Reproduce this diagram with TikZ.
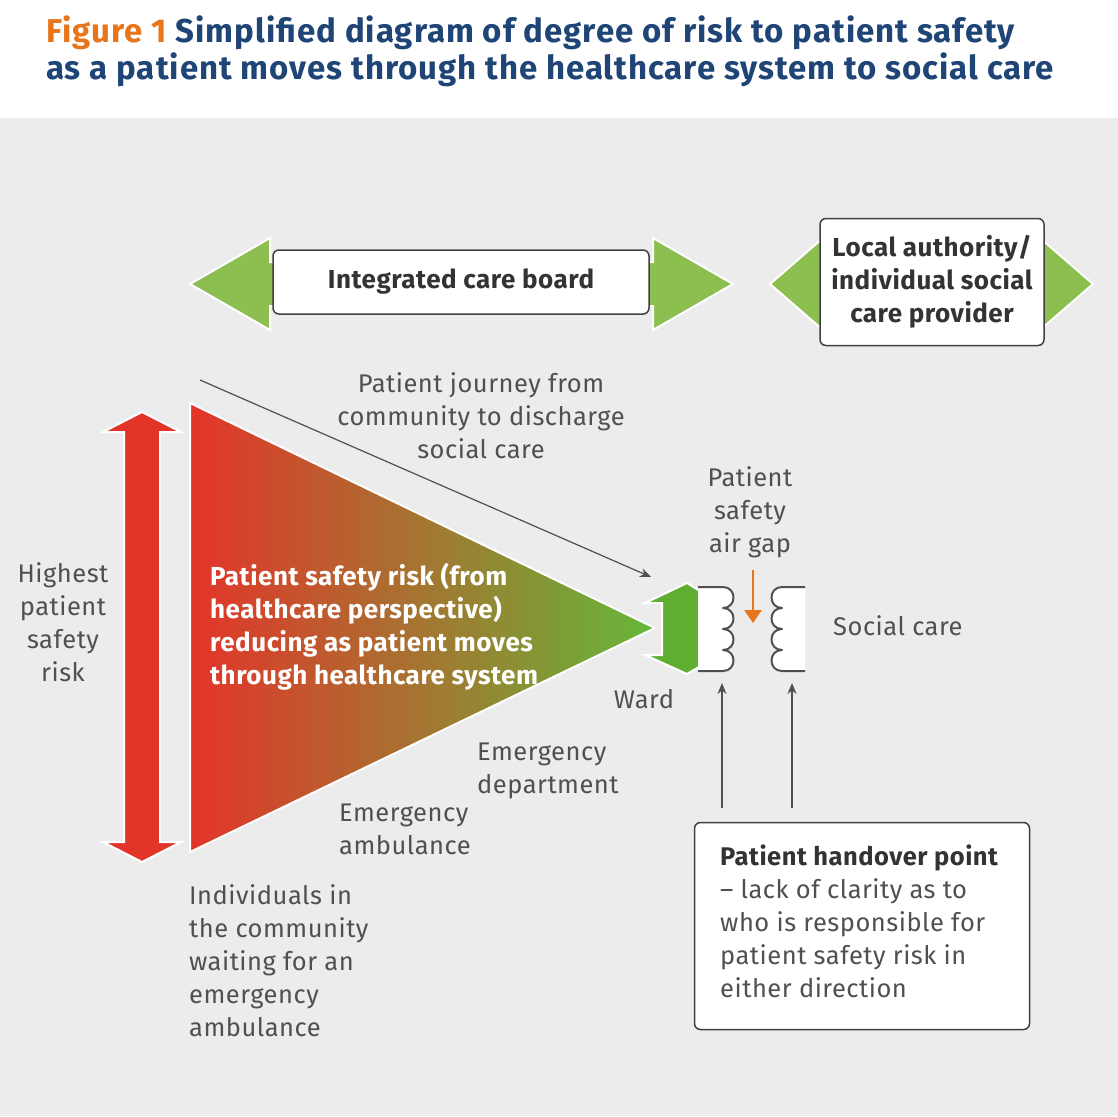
\documentclass[tikz,border=0pt]{standalone}
\usepackage{fontspec}
\setmainfont{Fira Sans}
\usetikzlibrary{arrows.meta}
\definecolor{bg}{HTML}{ECECEC}
\definecolor{ttl}{HTML}{1F4577}
\definecolor{org}{HTML}{E8751A}
\definecolor{grn}{HTML}{8CBF4F}
\definecolor{grn2}{HTML}{5FAE32}
\definecolor{rd}{HTML}{E3342A}
\definecolor{txt}{HTML}{505050}
\begin{document}
\begin{tikzpicture}[x=1pt,y=-1pt,
  lbl/.style={text=txt,font=\fontsize{25.5}{33}\selectfont\addfontfeature{LetterSpace=2},align=center,inner sep=0},
  box/.style={draw=txt!80!black,line width=1.5pt,fill=white,rounded corners=6pt},
  bold/.style={font=\fontsize{26}{33}\selectfont\bfseries\addfontfeature{LetterSpace=2},text=black!80},
  arr/.style={draw=white,line width=2pt},
  ln/.style={draw=txt,line width=1.2pt,-{Stealth[length=11pt,width=9pt]}}]
\useasboundingbox (0,0) rectangle (1118,1116);
\fill[white] (0,0) rectangle (1118,118);
\fill[bg] (0,118) rectangle (1118,1116);
\node[anchor=base west,inner sep=0,font=\fontsize{33}{36}\selectfont\bfseries\addfontfeature{LetterSpace=3}] (t1) at (46,43) {\textcolor{org}{Figure 1} \textcolor{ttl}{Simplified diagram of degree of risk to patient safety}};
\node[anchor=base west,inner sep=0,font=\fontsize{33}{36}\selectfont\bfseries\addfontfeature{LetterSpace=3},text=ttl] (t2) at (46,79) {as a patient moves through the healthcare system to social care};
% green arrows
\fill[grn,arr] (190,284) -- (270,238) -- (270,262) -- (653,262) -- (653,238) -- (733,284) -- (653,330) -- (653,306) -- (270,306) -- (270,330) -- cycle;
\node[box,minimum width=376pt,minimum height=64pt,bold] (icb) at (461,282) {Integrated care board};
\fill[grn,arr] (770,284) -- (823,238) -- (823,262) -- (1040,262) -- (1040,238) -- (1093,284) -- (1040,330) -- (1040,306) -- (823,306) -- (823,330) -- cycle;
\node[box,minimum width=224pt,minimum height=127pt,bold,align=center] (la) at (932,282) {Local authority/\\individual social\\care provider};
% red arrow
\fill[rd,arr] (142,412) -- (181,432) -- (160,432) -- (160,842) -- (181,842) -- (142,862) -- (103,842) -- (124,842) -- (124,432) -- (103,432) -- cycle;
% triangle
\shade[left color=rd,right color=grn!80!green!90!black] (190,403) -- (655,628) -- (190,852) -- cycle;
\draw[white,line width=2pt,line join=round] (190,403) -- (655,628) -- (190,852) -- cycle;
\node[anchor=north west,inner sep=0,align=left,text=white,font=\fontsize{26}{33}\selectfont\bfseries\addfontfeature{LetterSpace=2}] (tri) at (210,563) {Patient safety risk (from\\healthcare perspective)\\reducing as patient moves\\through healthcare system};
% green vertical arrow
\fill[grn2,arr] (687,583) -- (719,603) -- (700,603) -- (700,655) -- (719,655) -- (687,674) -- (645,655) -- (662,655) -- (662,603) -- (645,603) -- cycle;
% brackets
\draw[txt,line width=2pt,fill=white,line join=round] (698,587) -- (723,587)
  .. controls (737,587) and (737,608) .. (723,608)
  .. controls (737,608) and (737,629) .. (723,629)
  .. controls (737,629) and (737,650) .. (723,650)
  .. controls (737,650) and (737,671) .. (723,671) -- (698,671);
\draw[txt,line width=2pt,fill=white,line join=round] (805,587) -- (782,587)
  .. controls (768,587) and (768,608) .. (782,608)
  .. controls (768,608) and (768,629) .. (782,629)
  .. controls (768,629) and (768,650) .. (782,650)
  .. controls (768,650) and (768,671) .. (782,671) -- (805,671);
\coordinate (o1) at (753,570); \coordinate (o2) at (753,623);
\draw[org,line width=2.5pt,-{Triangle[length=13pt,width=17pt]}] (o1) -- (o2);
% labels
\node[lbl] (gap) at (750,512) {Patient\\safety\\air gap};
\node[lbl,anchor=west] (sc) at (833,626) {Social care};
\node[lbl] (ward) at (644,699) {Ward};
\node[lbl] (hp) at (63,622) {Highest\\patient\\safety\\risk};
\node[lbl] (pj) at (481,416) {Patient journey from\\community to discharge\\social care};
\node[lbl,align=left,anchor=north west] (ed) at (477,743) {Emergency\\department};
\node[lbl,align=left,anchor=north west] (ea) at (339,804) {Emergency\\ambulance};
\node[lbl,align=left,anchor=north west] (ind) at (189,884) {Individuals in\\the community\\waiting for an\\emergency\\ambulance};
\coordinate (j1) at (200,380); \coordinate (j2) at (651,577);
\draw[ln] (j1) -- (j2);
\node[box,minimum width=335pt,minimum height=207pt] (hb) at (862,926) {};
\node[anchor=north west,inner sep=0,align=left,text=txt,font=\fontsize{25.5}{33}\selectfont\addfontfeature{LetterSpace=2}] (hbt) at (720,845) {{\bfseries\color{black!80}Patient handover point}\\– lack of clarity as to\\who is responsible for\\patient safety risk in\\either direction};
\coordinate (u1) at (722,683); \coordinate (u2) at (792,683);
\draw[ln] (722,808) -- (u1);
\draw[ln] (792,808) -- (u2);
\end{tikzpicture}
\end{document}
